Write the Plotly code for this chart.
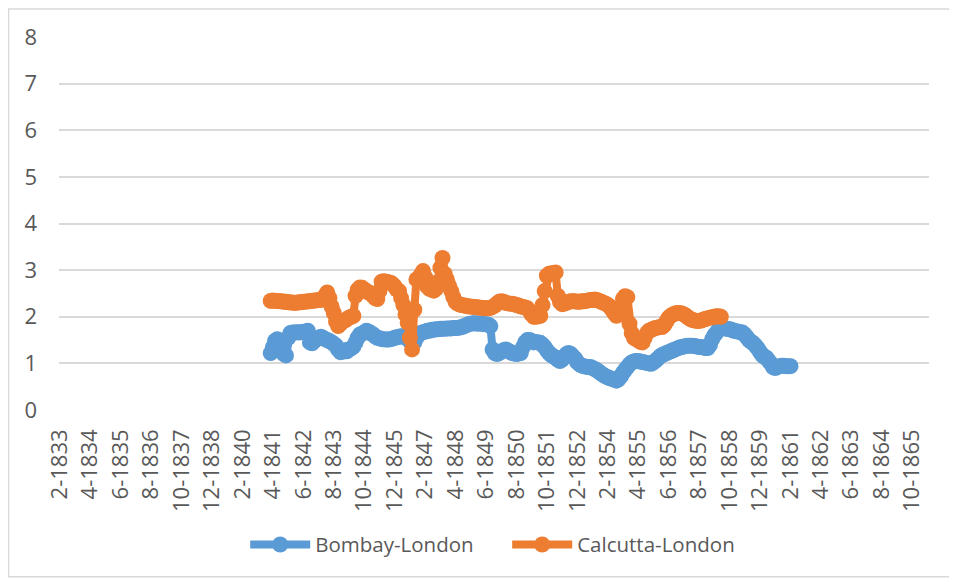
import pandas as pd
import plotly.graph_objects as go

# ---------------- data (monthly) ----------------
bombay_start = "1841-03-01"
bombay_london = [
    1.22, 1.35, 1.48, 1.52, 1.45, 1.30, 1.20, 1.17, 1.55, 1.65,
    1.66, 1.66, 1.67, 1.66, 1.67, 1.68, 1.67, 1.70, 1.45, 1.43,
    1.48, 1.52, 1.55, 1.57, 1.55, 1.52, 1.50, 1.48, 1.45, 1.42,
    1.38, 1.30, 1.24, 1.25, 1.28, 1.26, 1.30, 1.32, 1.36, 1.45,
    1.55, 1.62, 1.64, 1.66, 1.70, 1.68, 1.65, 1.62, 1.58, 1.55,
    1.54, 1.52, 1.52, 1.51, 1.51, 1.52, 1.53, 1.55, 1.56, 1.57,
    1.58, 1.58, 1.56, 1.52, 1.48, 1.43, 1.45, 1.55, 1.62, 1.65,
    1.67, 1.68, 1.70, 1.70, 1.72, 1.72, 1.73, 1.73, 1.74, 1.74,
    1.74, 1.75, 1.75, 1.75, 1.76, 1.76, 1.76, 1.77, 1.78, 1.80,
    1.82, 1.84, 1.85, 1.86, 1.86, 1.85, 1.86, 1.85, 1.84, 1.84,
    1.83, 1.80, 1.30, 1.22, 1.20, 1.22, 1.25, 1.28, 1.30, 1.28,
    1.25, 1.22, 1.21, 1.20, 1.21, 1.22, 1.35, 1.45, 1.50, 1.50,
    1.48, 1.45, 1.46, 1.45, 1.44, 1.40, 1.35, 1.28, 1.22, 1.18,
    1.15, 1.12, 1.08, 1.05, 1.08, 1.15, 1.20, 1.22, 1.20, 1.15,
    1.10, 1.02, 0.98, 0.95, 0.94, 0.93, 0.92, 0.92, 0.90, 0.88,
    0.85, 0.82, 0.78, 0.75, 0.72, 0.70, 0.68, 0.67, 0.65, 0.63,
    0.66, 0.72, 0.80, 0.86, 0.92, 0.98, 1.02, 1.04, 1.05, 1.05,
    1.04, 1.03, 1.02, 1.01, 1.00, 0.99, 1.02, 1.06, 1.10, 1.15,
    1.18, 1.20, 1.22, 1.24, 1.26, 1.28, 1.30, 1.32, 1.34, 1.35,
    1.36, 1.37, 1.38, 1.38, 1.38, 1.37, 1.36, 1.35, 1.35, 1.34,
    1.33, 1.33, 1.40, 1.52, 1.60, 1.66, 1.72, 1.75, 1.76, 1.75,
    1.74, 1.73, 1.72, 1.70, 1.69, 1.68, 1.67, 1.66, 1.62, 1.56,
    1.50, 1.46, 1.43, 1.38, 1.32, 1.25, 1.18, 1.14, 1.12, 1.06,
    1.00, 0.92, 0.90, 0.92, 0.94, 0.95, 0.95, 0.94, 0.94, 0.94,
]

calcutta_start = "1841-03-01"
calcutta_london = [
    2.34, 2.35, 2.34, 2.34, 2.33, 2.33, 2.32, 2.32, 2.31, 2.31,
    2.30, 2.30, 2.30, 2.31, 2.31, 2.32, 2.32, 2.33, 2.33, 2.34,
    2.35, 2.35, 2.36, 2.36, 2.38, 2.45, 2.52, 2.40, 2.22, 2.08,
    1.90, 1.80, 1.85, 1.90, 1.92, 1.95, 1.98, 2.00, 2.02, 2.45,
    2.58, 2.63, 2.62, 2.58, 2.55, 2.52, 2.50, 2.45, 2.40, 2.38,
    2.55, 2.75, 2.76, 2.75, 2.74, 2.73, 2.70, 2.65, 2.58, 2.55,
    2.40, 2.25, 2.05, 1.87, 1.55, 1.30, 2.15, 2.80, 2.82, 2.90,
    2.98, 2.85, 2.65, 2.60, 2.58, 2.56, 2.60, 2.75, 3.05, 3.26,
    2.92, 2.80, 2.66, 2.55, 2.42, 2.32, 2.28, 2.26, 2.25, 2.24,
    2.23, 2.22, 2.22, 2.21, 2.21, 2.20, 2.20, 2.19, 2.19, 2.18,
    2.18, 2.19, 2.21, 2.24, 2.28, 2.32, 2.33, 2.32, 2.30, 2.29,
    2.28, 2.28, 2.27, 2.25, 2.24, 2.22, 2.21, 2.20, 2.18, 2.12,
    2.05, 2.00, 2.00, 2.01, 2.02, 2.25, 2.55, 2.88, 2.92, 2.93,
    2.94, 2.95, 2.45, 2.32, 2.27, 2.28, 2.30, 2.32, 2.33, 2.33,
    2.33, 2.32, 2.32, 2.33, 2.33, 2.34, 2.35, 2.36, 2.36, 2.37,
    2.36, 2.34, 2.32, 2.30, 2.28, 2.25, 2.22, 2.15, 2.08, 2.02,
    2.05, 2.20, 2.38, 2.44, 2.42, 1.85, 1.65, 1.55, 1.52, 1.50,
    1.46, 1.45, 1.55, 1.65, 1.70, 1.72, 1.74, 1.76, 1.77, 1.78,
    1.78, 1.82, 1.90, 1.98, 2.02, 2.05, 2.07, 2.08, 2.08, 2.07,
    2.05, 2.02, 1.98, 1.95, 1.93, 1.92, 1.91, 1.91, 1.92, 1.94,
    1.95, 1.97, 1.98, 1.99, 2.00, 2.01, 2.01, 2.00,
]

tick_start = "1833-02-01"
tick_labels = [
    "2-1833", "4-1834", "6-1835", "8-1836", "10-1837", "12-1838", "2-1840",
    "4-1841", "6-1842", "8-1843", "10-1844", "12-1845", "2-1847", "4-1848",
    "6-1849", "8-1850", "10-1851", "12-1852", "2-1854", "4-1855", "6-1856",
    "8-1857", "10-1858", "12-1859", "2-1861", "4-1862", "6-1863", "8-1864",
    "10-1865",
]
y_ticks = [0, 1, 2, 3, 4, 5, 6, 7, 8]

# ---------------- build ----------------
bombay_dates = pd.date_range(bombay_start, periods=len(bombay_london), freq="MS")
calcutta_dates = pd.date_range(calcutta_start, periods=len(calcutta_london), freq="MS")
tick_vals = pd.date_range(tick_start, periods=len(tick_labels), freq="14MS")

FONT = "Open Sans"
TXT = "#595959"
GRID = "#d9d9d9"

fig = go.Figure()
fig.add_trace(go.Scatter(
    x=bombay_dates, y=bombay_london, name="Bombay-London",
    mode="lines+markers",
    line=dict(color="#5B9BD5", width=8),
    marker=dict(color="#5B9BD5", size=16),
))
fig.add_trace(go.Scatter(
    x=calcutta_dates, y=calcutta_london, name="Calcutta-London",
    mode="lines+markers",
    line=dict(color="#ED7D31", width=8),
    marker=dict(color="#ED7D31", size=16),
))

# page body has an 8px margin, so the figure is sized to fit the window
fig.update_layout(
    width=949, height=570,
    margin=dict(l=51, r=28, t=29, b=168, autoexpand=False),
    paper_bgcolor="white", plot_bgcolor="white",
    font=dict(family=FONT, size=22, color=TXT),
    showlegend=True,
    legend=dict(orientation="h", x=0.214, xanchor="left", y=-0.361,
                yanchor="middle", font=dict(size=20.5, color=TXT),
                entrywidth=187, entrywidthmode="pixels",
                itemwidth=60, tracegroupgap=0),
    shapes=[dict(type="rect", xref="paper", yref="paper",
                 x0=-0.058, x1=1.0242, y0=-0.447, y1=1.075,
                 line=dict(color=GRID, width=1.5), layer="below")],
)
fig.update_xaxes(
    type="date", range=["1833-01-18", "1866-05-25"],
    tickmode="array", tickvals=tick_vals, ticktext=tick_labels,
    tickangle=-90, showgrid=False, zeroline=False, showline=False,
    ticks="", ticklabelstandoff=14, tickfont=dict(size=22, color=TXT),
)
fig.update_yaxes(
    range=[0, 8], tickmode="array", tickvals=y_ticks,
    showgrid=True, gridcolor=GRID, gridwidth=1.5,
    zeroline=False, showline=False, ticks="",
    ticklabelstandoff=21, tickfont=dict(size=22, color=TXT),
)

fig.write_html("out.html")
